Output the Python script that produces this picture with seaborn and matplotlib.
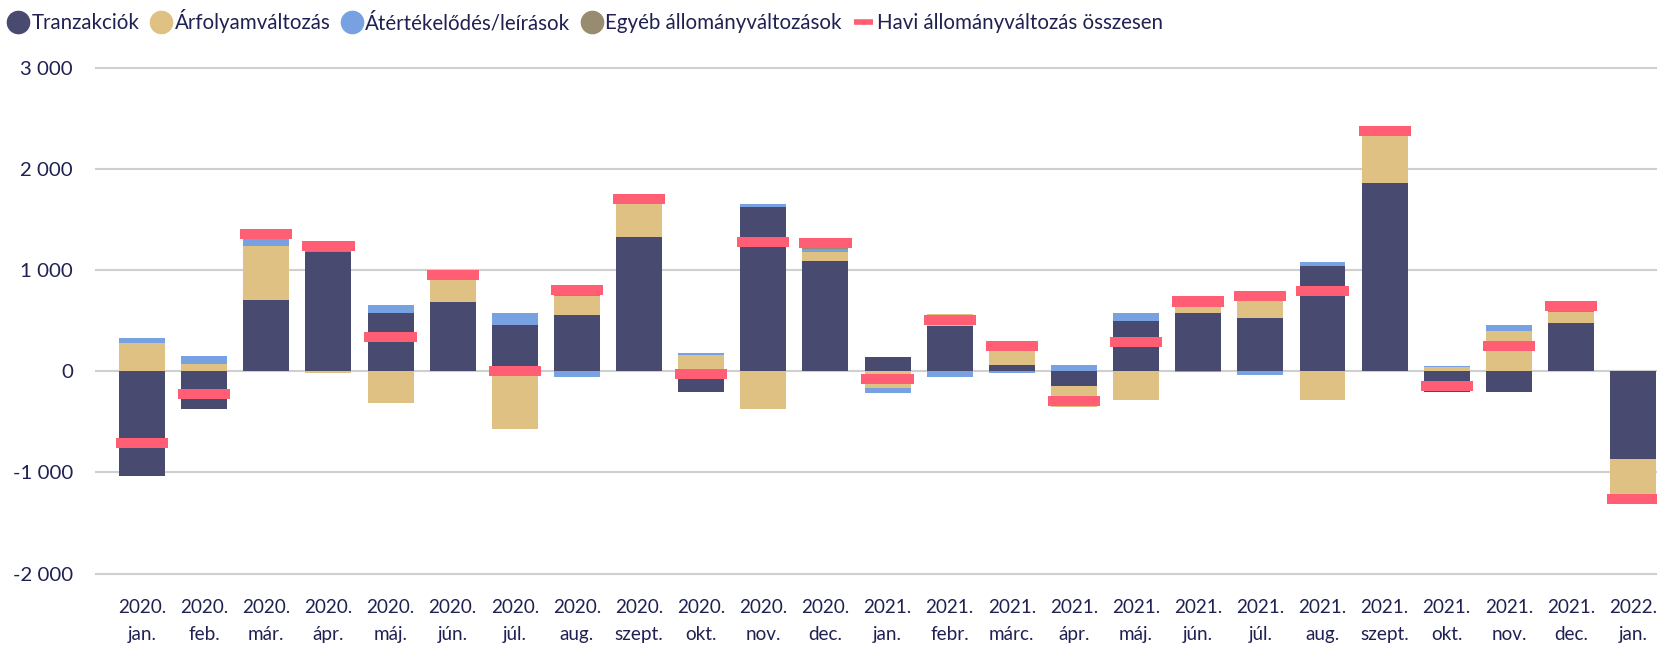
import numpy as np
import pandas as pd
import matplotlib
matplotlib.use("Agg")
import matplotlib.pyplot as plt
from matplotlib.lines import Line2D
import seaborn as sns

months = ["2020.\njan.", "2020.\nfeb.", "2020.\nmár.", "2020.\nápr.", "2020.\nmáj.", "2020.\njún.",
          "2020.\njúl.", "2020.\naug.", "2020.\nszept.", "2020.\nokt.", "2020.\nnov.", "2020.\ndec.",
          "2021.\njan.", "2021.\nfebr.", "2021.\nmárc.", "2021.\nápr.", "2021.\nmáj.", "2021.\njún.",
          "2021.\njúl.", "2021.\naug.", "2021.\nszept.", "2021.\nokt.", "2021.\nnov.", "2021.\ndec.",
          "2022.\njan."]
tranzakciok = [-1040, -372, 701, 1178, 572, 681, 454, 553, 1323, -204, 1619, 1086,
               138, 451, 59, -148, 494, 572, 523, 1037, 1856, -204, -204, 474, -869]
arfolyam = [276, 69, 533, -16, -313, 217, -569, 191, 326, 158, -372, 89,
            -165, 110, 138, -207, -286, 63, 168, -286, 467, 40, 395, 112, -355]
atertekelodes = [50, 79, 69, 0, 79, 0, 118, -56, 0, 20, 30, 32,
                 -49, -56, -16, 59, 78, -7, -39, 39, 0, 13, 59, 0, 0]
egyeb = [0, 0, 50, 72, 0, 56, 0, 112, 52, 0, 0, 57,
         0, 0, 69, 0, 0, 60, 92, 0, 53, 0, 0, 56, -40]
ytick_values = [-2000, -1000, 0, 1000, 2000, 3000]
ytick_labels = ["-2 000", "-1 000", "0", "1 000", "2 000", "3 000"]

series_names = ["Tranzakciók", "Árfolyamváltozás", "Átértékelődés/leírások", "Egyéb állományváltozások"]
total_name = "Havi állományváltozás összesen"
series_vals = [tranzakciok, arfolyam, atertekelodes, egyeb]
colors = ["#484a6f", "#dfc183", "#77a1e1", "#988c70"]
red = "#ff5e74"
text_color = "#1f2152"

sns.set_theme(style="white")
plt.rcParams["font.family"] = ["Lato", "DejaVu Sans"]

df = pd.DataFrame({"month": months})
for n, v in zip(series_names, series_vals):
    df[n] = v
df["total"] = df[series_names].sum(axis=1)

fig = plt.figure(figsize=(16.58, 6.48), dpi=100)
ax = fig.add_axes([95 / 1658, 1 - 578.6 / 648, 1 - 95 / 1658, 516.1 / 648])

x = np.arange(len(months))
bw = 0.74
pos_base = np.zeros(len(months))
neg_base = np.zeros(len(months))
for i, (n, c) in enumerate(zip(series_names, colors)):
    v = df[n].to_numpy(dtype=float)
    bottom = np.where(v >= 0, pos_base, neg_base)
    if i == 0:
        sns.barplot(x=x, y=v, color=c, width=bw, ax=ax, native_scale=True,
                    saturation=1, errorbar=None, zorder=2, linewidth=0, edgecolor="none")
    else:
        ax.bar(x, v, bottom=bottom, width=bw, color=c, zorder=2, linewidth=0)
    pos_base = pos_base + np.where(v >= 0, v, 0)
    neg_base = neg_base + np.where(v < 0, v, 0)

# monthly total marker
thick = 100
ax.bar(x, np.full(len(x), thick), bottom=df["total"].to_numpy() - thick / 2,
       width=0.84, color=red, zorder=3, linewidth=0)

ax.set_xlim(-0.757, 24.4)
ax.set_ylim(-2050, 3050)
ax.set_yticks(ytick_values)
ax.set_yticklabels(ytick_labels)
ax.set_xticks(x)
ax.set_xticklabels(months, linespacing=1.65)
ax.yaxis.grid(True, color="#cfcfcf", linewidth=1.5, zorder=0)
ax.xaxis.grid(False)
ax.set_axisbelow(True)
for s in ax.spines.values():
    s.set_visible(False)
ax.tick_params(axis="both", length=0, labelcolor=text_color)
ax.tick_params(axis="y", pad=16, labelsize=14.7)
ax.tick_params(axis="x", pad=15, labelsize=13.6)
ax.set_xlabel("")
ax.set_ylabel("")

handles = [Line2D([0], [0], marker="o", linestyle="none", markersize=16,
                  markerfacecolor=c, markeredgecolor=c) for c in colors]
handles.append(Line2D([0], [0], color=red, linewidth=4, solid_capstyle="butt"))
labels = series_names + [total_name]
fig.legend(handles, labels, loc="center left", bbox_to_anchor=(5 / 1658, 1 - 21 / 648),
           ncol=5, frameon=False, fontsize=14.8, handlelength=0.9, handletextpad=0.2,
           columnspacing=0.6, borderaxespad=0, borderpad=0.2, labelcolor=text_color)

fig.savefig("out.png", dpi=100)
